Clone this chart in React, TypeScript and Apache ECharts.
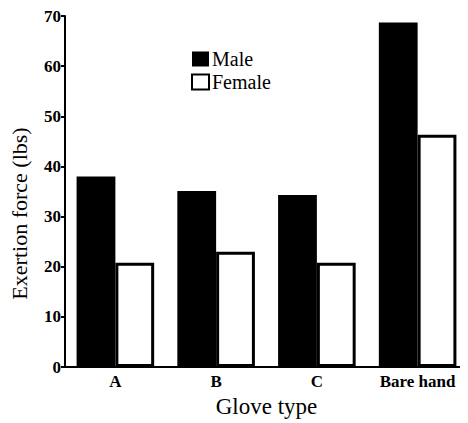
import React, { useEffect, useRef } from "react";
import * as echarts from "echarts";

const categories = ["A", "B", "C", "Bare hand"];
const maleValues = [38, 35.1, 34.3, 68.7];
const femaleValues = [20.8, 23, 20.8, 46.3];
const yTicks = [0, 10, 20, 30, 40, 50, 60, 70];

const FONT = "'Liberation Serif', 'Times New Roman', serif";

export default function App() {
  const ref = useRef<HTMLDivElement>(null);
  useEffect(() => {
    if (!ref.current) return;
    const chart = echarts.init(ref.current, null, { renderer: "svg" });
    chart.setOption({
      animation: false,
      backgroundColor: "#ffffff",
      grid: { left: 62, right: -6, top: 16, bottom: 54, containLabel: false },
      legend: {
        orient: "vertical",
        left: 186,
        top: 44,
        itemWidth: 17,
        itemHeight: 15,
        itemGap: 3,
        icon: "rect",
        textStyle: { fontFamily: FONT, fontSize: 20, color: "#000", padding: [0, 0, 0, -2] },
        data: ["Male", "Female"],
      },
      xAxis: {
        type: "category",
        data: categories,
        name: "Glove type",
        nameLocation: "middle",
        nameGap: 28,
        nameTextStyle: { fontFamily: FONT, fontSize: 23, color: "#000" },
        axisLine: { lineStyle: { color: "#000", width: 2 } },
        axisTick: { show: false },
        axisLabel: { interval: 0, fontFamily: FONT, fontSize: 17, color: "#000", fontWeight: "bold", margin: 6 },
      },
      yAxis: {
        type: "value",
        min: yTicks[0],
        max: yTicks[yTicks.length - 1],
        interval: 10,
        name: "Exertion force (lbs)",
        nameLocation: "middle",
        nameGap: 35,
        nameTextStyle: { fontFamily: FONT, fontSize: 22, color: "#000", padding: [0, 44, 0, 0] },
        axisLine: { show: true, lineStyle: { color: "#000", width: 2 } },
        axisTick: { show: true, length: 4, lineStyle: { color: "#000", width: 2 } },
        axisLabel: { fontFamily: FONT, fontSize: 17, color: "#000", fontWeight: "bold", margin: 4 },
        splitLine: { show: false },
      },
      series: [
        {
          name: "Male",
          type: "bar",
          data: maleValues,
          barGap: "0%",
          barCategoryGap: "23%",
          itemStyle: { color: "#000", borderColor: "#000", borderWidth: 0 },
        },
        {
          name: "Female",
          type: "bar",
          data: femaleValues,
          itemStyle: { color: "#fff", borderColor: "#000", borderWidth: 3 },
        },
      ],
    });
    return () => chart.dispose();
  }, []);
  return <div ref={ref} style={{ width: 468, height: 423, marginLeft: -8, marginTop: -8 }} />;
}
